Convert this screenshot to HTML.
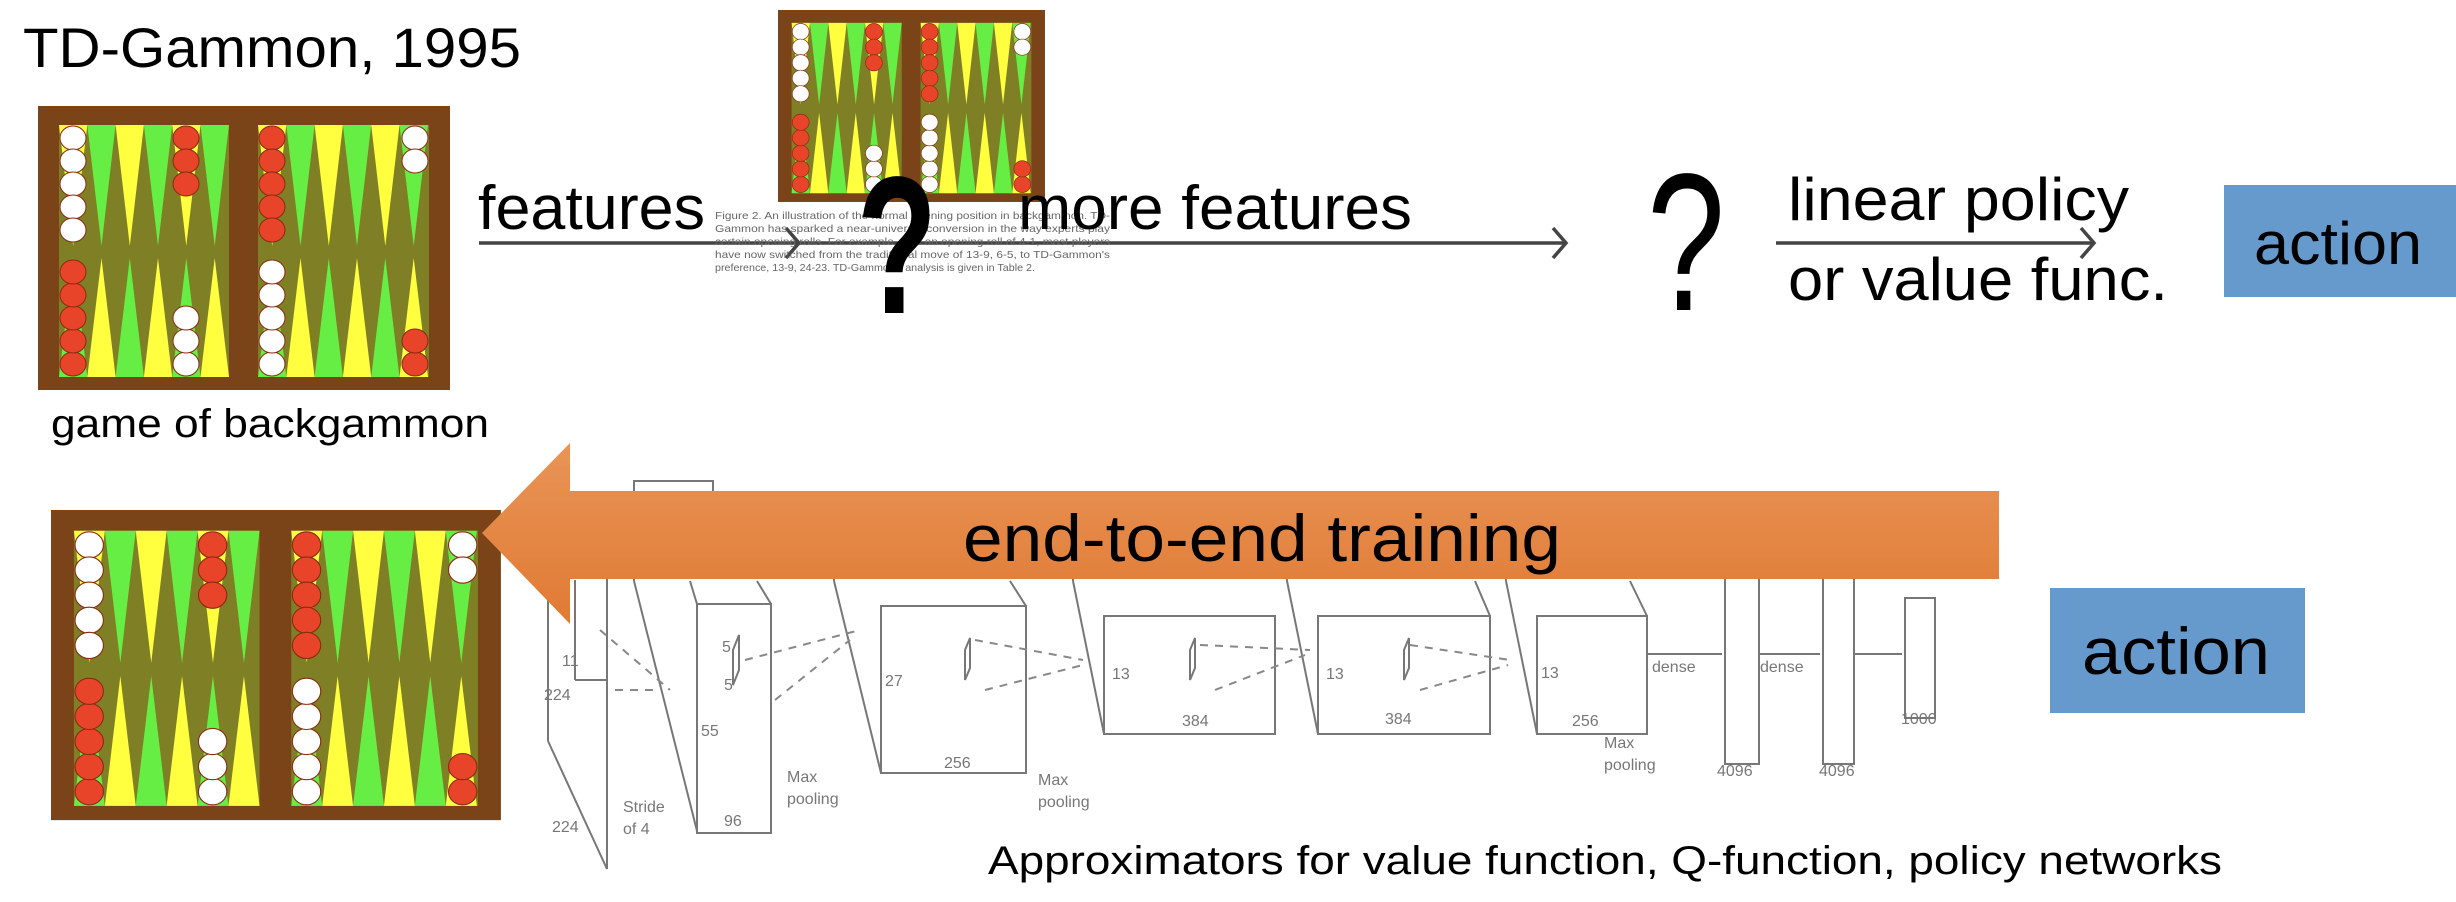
<!DOCTYPE html>
<html><head><meta charset="utf-8"><style>
html,body{margin:0;padding:0;background:#fff;}
svg{display:block;}
text{font-family:"Liberation Sans",sans-serif;}
</style></head><body>
<svg width="2456" height="902" viewBox="0 0 2456 902" xmlns="http://www.w3.org/2000/svg">
<defs>
<linearGradient id="og" x1="0" y1="0" x2="0" y2="1">
<stop offset="0" stop-color="#E99457"/><stop offset="1" stop-color="#E07A34"/>
</linearGradient>
<g id="board">
<rect x="0" y="0" width="412" height="284" fill="#7a4418"/>
<rect x="21" y="19" width="170" height="252" fill="#7f7f26"/>
<rect x="220" y="19" width="171" height="252" fill="#7f7f26"/>
<g id="tri">
<polygon points="21,19 49.3,19 35.2,140" fill="#ffff40"/>
<polygon points="49.3,19 77.6,19 63.5,140" fill="#66ee44"/>
<polygon points="77.6,19 105.9,19 91.8,140" fill="#ffff40"/>
<polygon points="105.9,19 134.2,19 120,140" fill="#66ee44"/>
<polygon points="134.2,19 162.5,19 148.3,140" fill="#ffff40"/>
<polygon points="162.5,19 191,19 176.7,140" fill="#66ee44"/>
<polygon points="21,271 49.3,271 35.2,152" fill="#66ee44"/>
<polygon points="49.3,271 77.6,271 63.5,152" fill="#ffff40"/>
<polygon points="77.6,271 105.9,271 91.8,152" fill="#66ee44"/>
<polygon points="105.9,271 134.2,271 120,152" fill="#ffff40"/>
<polygon points="134.2,271 162.5,271 148.3,152" fill="#66ee44"/>
<polygon points="162.5,271 191,271 176.7,152" fill="#ffff40"/>
</g>
<use href="#tri" x="199"/>
<g stroke="#8a2a10" stroke-width="1">
<g fill="#fff">
<ellipse cx="35" cy="32" rx="13" ry="12"/><ellipse cx="35" cy="55" rx="13" ry="12"/><ellipse cx="35" cy="78" rx="13" ry="12"/><ellipse cx="35" cy="101" rx="13" ry="12"/><ellipse cx="35" cy="124" rx="13" ry="12"/>
<ellipse cx="377" cy="32" rx="13" ry="12"/><ellipse cx="377" cy="55" rx="13" ry="12"/>
<ellipse cx="148" cy="258" rx="13" ry="12"/><ellipse cx="148" cy="235" rx="13" ry="12"/><ellipse cx="148" cy="212" rx="13" ry="12"/>
<ellipse cx="234" cy="258" rx="13" ry="12"/><ellipse cx="234" cy="235" rx="13" ry="12"/><ellipse cx="234" cy="212" rx="13" ry="12"/><ellipse cx="234" cy="189" rx="13" ry="12"/><ellipse cx="234" cy="166" rx="13" ry="12"/>
</g>
<g fill="#e8442a">
<ellipse cx="148" cy="32" rx="13" ry="12"/><ellipse cx="148" cy="55" rx="13" ry="12"/><ellipse cx="148" cy="78" rx="13" ry="12"/>
<ellipse cx="234" cy="32" rx="13" ry="12"/><ellipse cx="234" cy="55" rx="13" ry="12"/><ellipse cx="234" cy="78" rx="13" ry="12"/><ellipse cx="234" cy="101" rx="13" ry="12"/><ellipse cx="234" cy="124" rx="13" ry="12"/>
<ellipse cx="35" cy="258" rx="13" ry="12"/><ellipse cx="35" cy="235" rx="13" ry="12"/><ellipse cx="35" cy="212" rx="13" ry="12"/><ellipse cx="35" cy="189" rx="13" ry="12"/><ellipse cx="35" cy="166" rx="13" ry="12"/>
<ellipse cx="377" cy="258" rx="13" ry="12"/><ellipse cx="377" cy="235" rx="13" ry="12"/>
</g>
</g>
</g>
</defs>

<!-- title -->
<text x="23" y="67" font-size="56" textLength="498" lengthAdjust="spacingAndGlyphs">TD-Gammon, 1995</text>

<!-- boards -->
<use href="#board" transform="translate(38,106)"/>
<use href="#board" transform="translate(778,10) scale(0.648,0.676)"/>
<use href="#board" transform="translate(51,510) scale(1.092,1.092)"/>

<text x="51" y="437" font-size="40" textLength="438" lengthAdjust="spacingAndGlyphs">game of backgammon</text>

<!-- top arrows -->
<g stroke="#444" stroke-width="3.5" fill="none">
<line x1="479" y1="243" x2="1565" y2="243"/>
<polyline points="1553,228 1566,243 1553,258"/>
<polyline points="786,228 799,243 786,258"/>
<line x1="1776" y1="243" x2="2093" y2="243"/>
<polyline points="2081,228 2094,243 2081,258"/>
</g>
<text x="478" y="229" font-size="62" textLength="227" lengthAdjust="spacingAndGlyphs">features</text>
<g font-size="10.5" fill="#666">
<text x="715" y="219" textLength="395" lengthAdjust="spacingAndGlyphs">Figure 2. An illustration of the normal opening position in backgammon. TD-</text>
<text x="715" y="232" textLength="395" lengthAdjust="spacingAndGlyphs">Gammon has sparked a near-universal conversion in the way experts play</text>
<text x="715" y="245" textLength="395" lengthAdjust="spacingAndGlyphs">certain opening rolls. For example, with an opening roll of 4-1, most players</text>
<text x="715" y="258" textLength="395" lengthAdjust="spacingAndGlyphs">have now switched from the traditional move of 13-9, 6-5, to TD-Gammon's</text>
<text x="715" y="271" textLength="320" lengthAdjust="spacingAndGlyphs">preference, 13-9, 24-23. TD-Gammon's analysis is given in Table 2.</text>
</g>
<text x="857" y="313" font-size="196" font-weight="bold" textLength="80" lengthAdjust="spacingAndGlyphs">?</text>
<text x="1018" y="229" font-size="62" textLength="394" lengthAdjust="spacingAndGlyphs">more features</text>
<text x="1647" y="310" font-size="196" textLength="78" lengthAdjust="spacingAndGlyphs">?</text>
<text x="1788" y="220" font-size="60" textLength="341" lengthAdjust="spacingAndGlyphs">linear policy</text>
<text x="1788" y="300" font-size="60" textLength="380" lengthAdjust="spacingAndGlyphs">or value func.</text>

<rect x="2224" y="185" width="232" height="112" fill="#6699cc"/>
<text x="2254" y="264" font-size="60" textLength="168" lengthAdjust="spacingAndGlyphs">action</text>

<!-- CNN diagram -->
<g stroke="#777" stroke-width="2" fill="none">
<line x1="548" y1="581" x2="548" y2="741"/>
<line x1="548" y1="741" x2="607" y2="869"/>
<line x1="607" y1="500" x2="607" y2="869"/>
<line x1="575" y1="580" x2="575" y2="680"/>
<line x1="575" y1="680" x2="607" y2="680"/>
<rect x="634" y="481" width="79" height="20"/>
<line x1="634" y1="490" x2="634" y2="581"/>
<line x1="634" y1="581" x2="697" y2="831"/>
<line x1="690" y1="581" x2="697" y2="604"/>
<rect x="697" y="604" width="74" height="229"/>
<line x1="757" y1="581" x2="771" y2="604"/>
<line x1="834" y1="500" x2="834" y2="581"/>
<line x1="834" y1="581" x2="881" y2="773"/>
<rect x="881" y="606" width="145" height="167"/>
<line x1="1010" y1="581" x2="1026" y2="606"/>
<line x1="1073" y1="500" x2="1073" y2="581"/>
<line x1="1073" y1="581" x2="1104" y2="734"/>
<rect x="1104" y="616" width="171" height="118"/>
<line x1="1280" y1="500" x2="1287" y2="581"/>
<line x1="1287" y1="581" x2="1318" y2="734"/>
<rect x="1318" y="616" width="172" height="118"/>
<line x1="1475" y1="581" x2="1490" y2="616"/>
<line x1="1500" y1="500" x2="1506" y2="581"/>
<line x1="1506" y1="581" x2="1537" y2="734"/>
<rect x="1537" y="616" width="110" height="118"/>
<line x1="1630" y1="581" x2="1647" y2="616"/>
<rect x="1725" y="560" width="34" height="204"/>
<rect x="1823" y="560" width="31" height="204"/>
<rect x="1905" y="598" width="30" height="120"/>
<line x1="1647" y1="654" x2="1722" y2="654"/>
<line x1="1759" y1="654" x2="1820" y2="654"/>
<line x1="1854" y1="654" x2="1902" y2="654"/>
<path d="M733,650 l6,-15 v35 l-6,15 z M965,650 l5,-12 v30 l-5,12 z M1190,650 l5,-12 v30 l-5,12 z M1404,650 l5,-12 v30 l-5,12 z"/>
</g>
<g stroke="#888" stroke-width="2" fill="none" stroke-dasharray="8,7">
<line x1="600" y1="630" x2="670" y2="690"/>
<line x1="615" y1="690" x2="660" y2="690"/>
<line x1="745" y1="660" x2="860" y2="630"/>
<line x1="775" y1="700" x2="850" y2="640"/>
<line x1="975" y1="640" x2="1083" y2="660"/>
<line x1="985" y1="690" x2="1083" y2="665"/>
<line x1="1200" y1="645" x2="1310" y2="650"/>
<line x1="1215" y1="690" x2="1305" y2="655"/>
<line x1="1410" y1="645" x2="1510" y2="660"/>
<line x1="1420" y1="690" x2="1508" y2="665"/>
</g>
<g font-size="16" fill="#777">
<text x="544" y="700">224</text><text x="552" y="832">224</text>
<text x="562" y="666">11</text>
<text x="623" y="812">Stride</text><text x="623" y="834">of 4</text>
<text x="701" y="736">55</text><text x="724" y="826">96</text>
<text x="722" y="652">5</text><text x="724" y="690">5</text>
<text x="787" y="782">Max</text><text x="787" y="804">pooling</text>
<text x="885" y="686">27</text><text x="944" y="768">256</text>
<text x="1038" y="785">Max</text><text x="1038" y="807">pooling</text>
<text x="1112" y="679">13</text><text x="1182" y="726">384</text>
<text x="1326" y="679">13</text><text x="1385" y="724">384</text>
<text x="1541" y="678">13</text><text x="1572" y="726">256</text>
<text x="1604" y="748">Max</text><text x="1604" y="770">pooling</text>
<text x="1652" y="672">dense</text><text x="1760" y="672">dense</text>
<text x="1717" y="776">4096</text><text x="1819" y="776">4096</text>
<text x="1901" y="724">1000</text>
</g>

<!-- orange arrow -->
<polygon points="482,533 570,443 570,491 1999,491 1999,579 570,579 570,624" fill="url(#og)"/>
<text x="963" y="561" font-size="66" textLength="598" lengthAdjust="spacingAndGlyphs">end-to-end training</text>

<rect x="2050" y="588" width="255" height="125" fill="#6699cc"/>
<text x="2082" y="674" font-size="66" textLength="188" lengthAdjust="spacingAndGlyphs">action</text>

<text x="988" y="874" font-size="40" textLength="1234" lengthAdjust="spacingAndGlyphs">Approximators for value function, Q-function, policy networks</text>
</svg>
</body></html>
